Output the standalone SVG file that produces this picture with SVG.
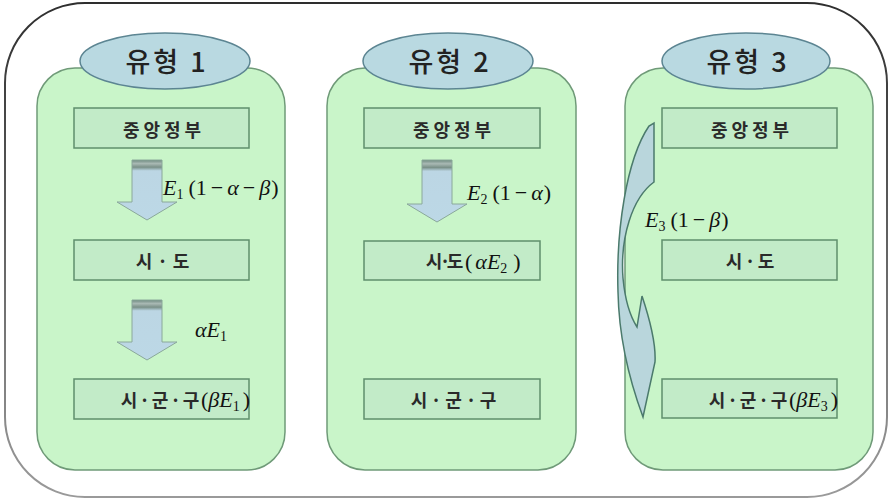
<svg xmlns="http://www.w3.org/2000/svg" width="892" height="502" viewBox="0 0 892 502">
<defs>
<linearGradient id="shaft" x1="0" y1="0" x2="0" y2="1">
<stop offset="0" stop-color="#6f8a80"/>
<stop offset="0.06" stop-color="#a9b9b4"/>
<stop offset="0.12" stop-color="#7a9088"/>
<stop offset="0.18" stop-color="#bcd6e4"/>
<stop offset="1" stop-color="#bcd8e6"/>
</linearGradient>
<linearGradient id="outerStroke" x1="0" y1="0" x2="0" y2="1">
<stop offset="0" stop-color="#2e2e2e"/>
<stop offset="1" stop-color="#9a9a9a"/>
</linearGradient>
</defs>
<style>
.panel{fill:#c9f5c9;stroke:#6f9a78;stroke-width:1.5}
.title{fill:#b9d9e1;stroke:#5c8592;stroke-width:1.5}
.tt{font-family:"Noto Sans CJK KR","Noto Sans",sans-serif;font-size:27px;font-weight:500;letter-spacing:3px;fill:#222;text-anchor:middle}
.box{fill:#c2ebc8;stroke:#5f8f6c;stroke-width:1.5}
.bt{font-family:"Noto Sans CJK KR","Noto Sans",sans-serif;font-size:18px;font-weight:bold;fill:#2a2a2a;text-anchor:middle}
.ls4{letter-spacing:4px}
.m{font-family:"Liberation Serif","DejaVu Serif",serif;font-size:22px;fill:#111}
.i{font-style:italic}
.sub{font-size:14px}
.arrow{fill:url(#shaft);stroke:#8aa89a;stroke-width:1}
.curve{fill:#b9d6dc;stroke:#4b7a6c;stroke-width:1.5}
</style>
<rect x="5" y="3" width="882" height="494" rx="80" ry="80" fill="#ffffff" stroke="url(#outerStroke)" stroke-width="2"/>

<g id="panel1">
<rect class="panel" x="37" y="68" width="248" height="402" rx="38"/>
<ellipse class="title" cx="165" cy="61" rx="85" ry="28"/>
<text class="tt" x="167" y="72">유형 1</text>
</g>
<g id="panel2">
<rect class="panel" x="327" y="68" width="249" height="402" rx="38"/>
<ellipse class="title" cx="448" cy="61" rx="85" ry="28"/>
<text class="tt" x="450" y="72">유형 2</text>
</g>
<g id="panel3">
<rect class="panel" x="625" y="68" width="248" height="402" rx="38"/>
<ellipse class="title" cx="746" cy="61" rx="84" ry="28"/>
<text class="tt" x="748" y="72">유형 3</text>
</g>

<g id="p1-central"><rect class="box" x="74" y="108" width="175" height="40"/><text class="bt ls4" x="164" y="137">중앙정부</text></g>
<g id="p1-sido"><rect class="box" x="74" y="240" width="175" height="40"/><text class="bt" x="144 162.5 181" y="268">시·도</text></g>
<g id="p1-sigungu"><rect class="box" x="74" y="379" width="175" height="40"/><text class="bt" x="129 144.5 160 175.5 191" y="407">시·군·구</text><text class="m" x="201" y="407">(<tspan class="i">βE</tspan><tspan class="sub" dy="4">1</tspan><tspan dy="-4" dx="3">)</tspan></text></g>

<g id="p2-central"><rect class="box" x="364" y="108" width="176" height="40"/><text class="bt ls4" x="454" y="137">중앙정부</text></g>
<g id="p2-sido"><rect class="box" x="364" y="241" width="176" height="39"/><text class="bt" x="434 445 455" y="268">시·도</text><text class="m" x="465" y="269" font-size="24">(<tspan class="i" dx="3">αE</tspan><tspan class="sub" dy="4" font-size="15">2</tspan><tspan dy="-4" dx="6">)</tspan></text></g>
<g id="p2-sigungu"><rect class="box" x="364" y="379" width="176" height="40"/><text class="bt" x="419 436 453.5 471 488" y="407">시·군·구</text></g>

<g id="p3-central"><rect class="box" x="662" y="108" width="175" height="40"/><text class="bt ls4" x="752" y="137">중앙정부</text></g>
<g id="p3-sido"><rect class="box" x="662" y="240" width="175" height="40"/><text class="bt" x="734 750 766" y="268">시·도</text></g>
<g id="p3-sigungu"><rect class="box" x="662" y="379" width="175" height="39"/><text class="bt" x="717 732.5 748 763.5 779" y="407">시·군·구</text><text class="m" x="789" y="407">(<tspan class="i">βE</tspan><tspan class="sub" dy="4">3</tspan><tspan dy="-4" dx="3">)</tspan></text></g>

<g id="connectors">
<path class="arrow" d="M132 160 H162 V202 H177 L147 220 L117 202 H132 Z"/>
<path class="arrow" d="M132 300 H162 V342 H177 L147 360 L117 342 H132 Z"/>
<path class="arrow" d="M422 160 H452 V204 H467 L437 222 L407 204 H422 Z"/>
<path class="curve" d="M654 123 L654 182 C632 198 620 238 623 278 C625 300 630 316 637 327 L642 296 C650 320 656 345 655 362 L643 417 C630 382 619 342 618 292 C616 232 626 160 649 126 Z"/>
<text class="m" x="163" y="195"><tspan class="i">E</tspan><tspan class="sub" dy="4">1</tspan><tspan dy="-4" dx="5">(1</tspan><tspan dx="4">−</tspan><tspan class="i" dx="4">α</tspan><tspan dx="4">−</tspan><tspan class="i" dx="4">β</tspan><tspan dx="1">)</tspan></text>
<text class="m" x="195" y="337"><tspan class="i">αE</tspan><tspan class="sub" dy="4">1</tspan></text>
<text class="m" x="467" y="200"><tspan class="i">E</tspan><tspan class="sub" dy="4">2</tspan><tspan dy="-4" dx="5">(1</tspan><tspan dx="4">−</tspan><tspan class="i" dx="4">α</tspan><tspan dx="1">)</tspan></text>
<text class="m" x="645" y="227"><tspan class="i">E</tspan><tspan class="sub" dy="4">3</tspan><tspan dy="-4" dx="5">(1</tspan><tspan dx="4">−</tspan><tspan class="i" dx="4">β</tspan><tspan dx="1">)</tspan></text>
</g>
</svg>
